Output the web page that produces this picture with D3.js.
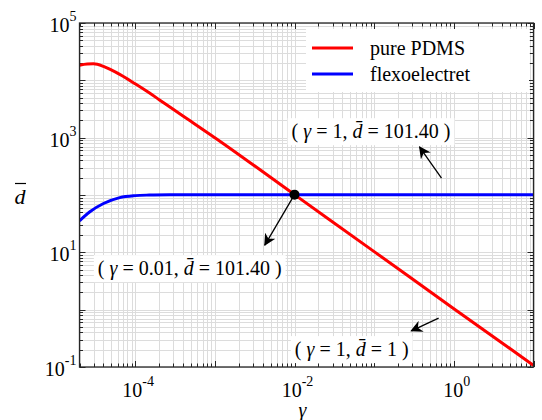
<!DOCTYPE html>
<meta charset="utf-8">
<style>
    body { margin: 0; background: #fff; }
    svg text { font-family: "Liberation Serif", "DejaVu Serif", "Tinos", "Noto Serif", "Times New Roman", Times, serif; fill: #000; }
    .curve { fill: none; stroke-width: 3px; stroke-linejoin: round; }
</style>
<svg width="542" height="420"></svg>
<script src="https://cdnjs.cloudflare.com/ajax/libs/d3/7.8.5/d3.min.js"></script>
<script>

    // values
    var gammaPDMS = [2e-5, 2.5e-5, 3e-5, 4e-5, 5e-5, 6.4e-5, 1e-4, 1.5e-4, 2e-4, 3e-4, 5e-4, 1e-3, 1e-2, 1e-1, 1, 10];
    var dPDMS     = [18300, 19300, 19400, 17500, 15200, 12700, 8700, 6050, 4600, 3120, 1930, 1000, 101.4, 10.3, 1.04, 0.107];

    var gammaFlexo = [2e-5, 2.7e-5, 4e-5, 6.4e-5, 1e-4, 1.5e-4, 2.7e-4, 1e-3, 1e-2, 1e-1, 1, 10];
    var dFlexo     = [35.5, 51, 71, 90, 97.5, 99.8, 101, 101.4, 101.4, 101.4, 101.4, 101.4];

    var seriesNames = ["pure PDMS", "flexoelectret"];
    var seriesColors = ["#ff0000", "#0000ff"];

    var xTickExp = [-4, -2, 0];
    var yTickExp = [-1, 1, 3, 5];

    var crossPoint = [0.01, 101.4];

    var svg = d3.select("svg");
    var pLeft = 79.5, pRight = 533.5, pTop = 23, pBottom = 367;

    var x = d3.scaleLog().domain([2e-5, 10]).range([pLeft, pRight]);
    var y = d3.scaleLog().domain([0.1, 1e5]).range([pBottom, pTop]);

    svg.append("rect").attr("width", "100%").attr("height", "100%").attr("fill", "#fff");

    // grid, minor + major
    var xMinor = [], yMinor = [];
    for (var e = -5; e <= 1; e++) {
        for (var m = 1; m <= 9; m++) {
            var v = m * Math.pow(10, e);
            if (v >= 2e-5 * 0.999 && v <= 10 * 1.001) xMinor.push(v);
        }
    }
    for (var e = -1; e <= 5; e++) {
        for (var m = 1; m <= 9; m++) {
            var v = m * Math.pow(10, e);
            if (v <= 1e5 * 1.001) yMinor.push(v);
        }
    }

    var grid = svg.append("g").attr("stroke", "#dcdcdc").attr("stroke-width", 1);
    grid.selectAll(".gx").data(xMinor).enter().append("line")
            .attr("x1", function (d) { return Math.round(x(d)) + 0.5; })
            .attr("x2", function (d) { return Math.round(x(d)) + 0.5; })
            .attr("y1", pTop).attr("y2", pBottom);
    grid.selectAll(".gy").data(yMinor).enter().append("line")
            .attr("y1", function (d) { return Math.round(y(d)) + 0.5; })
            .attr("y2", function (d) { return Math.round(y(d)) + 0.5; })
            .attr("x1", pLeft).attr("x2", pRight);

    // ticks on all four sides, pointing inward
    var ticks = svg.append("g").attr("stroke", "#262626").attr("stroke-width", 1);
    function isMajor(v) {
        var l = Math.log10(v);
        return Math.abs(l - Math.round(l)) < 1e-6;
    }
    xMinor.forEach(function (v) {
        var px = Math.round(x(v)) + 0.5, len = isMajor(v) ? 6 : 3.5;
        ticks.append("line").attr("x1", px).attr("x2", px).attr("y1", pBottom).attr("y2", pBottom - len);
        ticks.append("line").attr("x1", px).attr("x2", px).attr("y1", pTop).attr("y2", pTop + len);
    });
    yMinor.forEach(function (v) {
        var py = Math.round(y(v)) + 0.5, len = isMajor(v) ? 6 : 3.5;
        ticks.append("line").attr("y1", py).attr("y2", py).attr("x1", pLeft).attr("x2", pLeft + len);
        ticks.append("line").attr("y1", py).attr("y2", py).attr("x1", pRight).attr("x2", pRight - len);
    });

    // curves
    svg.append("clipPath").attr("id", "plotclip").append("rect")
            .attr("x", pLeft).attr("y", pTop).attr("width", pRight - pLeft).attr("height", pBottom - pTop);

    var line = d3.line()
            .x(function (d) { return x(d[0]); })
            .y(function (d) { return y(d[1]); })
            .curve(d3.curveMonotoneX);

    var curves = [d3.zip(gammaPDMS, dPDMS), d3.zip(gammaFlexo, dFlexo)];
    svg.append("g").attr("clip-path", "url(#plotclip)")
            .selectAll("path").data(curves).enter().append("path")
            .attr("class", "curve")
            .attr("stroke", function (d, i) { return seriesColors[i]; })
            .attr("d", line);

    svg.append("circle")
            .attr("cx", x(crossPoint[0])).attr("cy", y(crossPoint[1]))
            .attr("r", 5).attr("fill", "#000");

    // axis box
    svg.append("rect")
            .attr("x", pLeft).attr("y", pTop).attr("width", pRight - pLeft).attr("height", pBottom - pTop)
            .attr("fill", "none").attr("stroke", "#262626").attr("stroke-width", 1.3);

    // tick labels
    svg.selectAll(".xl").data(xTickExp).enter().append("text")
            .attr("x", function (d) { return x(Math.pow(10, d)) + 3; })
            .attr("y", pBottom + 30)
            .attr("text-anchor", "middle")
            .style("font-size", "20px")
            .each(function (d) {
                var t = d3.select(this);
                t.append("tspan").text("10");
                t.append("tspan").attr("dy", -11).style("font-size", "14px").text(d < 0 ? "-" + (-d) : d);
            });

    svg.selectAll(".yl").data(yTickExp).enter().append("text")
            .attr("x", pLeft - 3)
            .attr("y", function (d) { return y(Math.pow(10, d)) + 9; })
            .attr("text-anchor", "end")
            .style("font-size", "20px")
            .each(function (d) {
                var t = d3.select(this);
                t.append("tspan").text("10");
                t.append("tspan").attr("dy", -11).style("font-size", "14px").text(d < 0 ? "-" + (-d) : d);
            });

    // axis titles
    svg.append("text").attr("x", (pLeft + pRight) / 2 - 4).attr("y", 417)
            .attr("text-anchor", "middle").style("font-size", "20px").style("font-style", "italic").text("γ");
    svg.append("text").attr("x", 20).attr("y", 204)
            .attr("text-anchor", "middle").style("font-size", "22px").style("font-style", "italic").text("d");
    svg.append("line").attr("x1", 15).attr("x2", 26).attr("y1", 183.5).attr("y2", 183.5)
            .attr("stroke", "#000").attr("stroke-width", 1.2);

    // legend
    var legend = svg.append("g");
    legend.append("rect").attr("x", 306).attr("y", 29).attr("width", 223).attr("height", 63).attr("fill", "#fff");
    seriesNames.forEach(function (name, i) {
        var ly = 48 + i * 26;
        legend.append("line").attr("x1", 312).attr("x2", 353).attr("y1", ly).attr("y2", ly)
                .attr("stroke", seriesColors[i]).attr("stroke-width", 3);
        legend.append("text").attr("x", 370).attr("y", ly + 7).style("font-size", "20px").text(name);
    });

    // annotations: [gamma, d] of text start / baseline, then label parts
    var notes = [
        {at: [9.2e-3, 980], g: "1", v: "101.40"},
        {at: [3.4e-5, 4.0], g: "0.01", v: "101.40"},
        {at: [0.0101, 0.155], g: "1", v: "1"}
    ];
    notes.forEach(function (n) {
        var g = svg.append("g");
        var bg = g.append("rect").attr("fill", "#fff");
        var t = g.append("text").attr("x", x(n.at[0])).attr("y", y(n.at[1])).style("font-size", "20px");
        t.append("tspan").text("( ");
        t.append("tspan").style("font-style", "italic").text("γ");
        t.append("tspan").text(" = " + n.g + ", ");
        t.append("tspan").style("font-style", "italic").text("d\u0304");
        t.append("tspan").text(" = " + n.v + " )");
        var b = t.node().getBBox();
        bg.attr("x", b.x - 4).attr("y", b.y - 2).attr("width", b.width + 8).attr("height", b.height + 4);
    });

    // arrows
    svg.append("defs").append("marker")
            .attr("id", "head").attr("viewBox", "0 0 10 10")
            .attr("refX", 9).attr("refY", 5)
            .attr("markerWidth", 12).attr("markerHeight", 12)
            .attr("markerUnits", "userSpaceOnUse")
            .attr("orient", "auto")
            .append("path").attr("d", "M0,0 L10,5 L0,10 L3,5 Z").attr("fill", "#000");

    var arrows = [
        [[0.70, 197], [0.372, 686]],
        [crossPoint, [4.24e-3, 13.4]],
        [[0.644, 0.711], [0.293, 0.427]]
    ];
    svg.selectAll(".arrow").data(arrows).enter().append("line")
            .attr("x1", function (d) { return x(d[0][0]); })
            .attr("y1", function (d) { return y(d[0][1]); })
            .attr("x2", function (d) { return x(d[1][0]); })
            .attr("y2", function (d) { return y(d[1][1]); })
            .attr("stroke", "#000").attr("stroke-width", 1.3)
            .attr("marker-end", "url(#head)");

</script>
